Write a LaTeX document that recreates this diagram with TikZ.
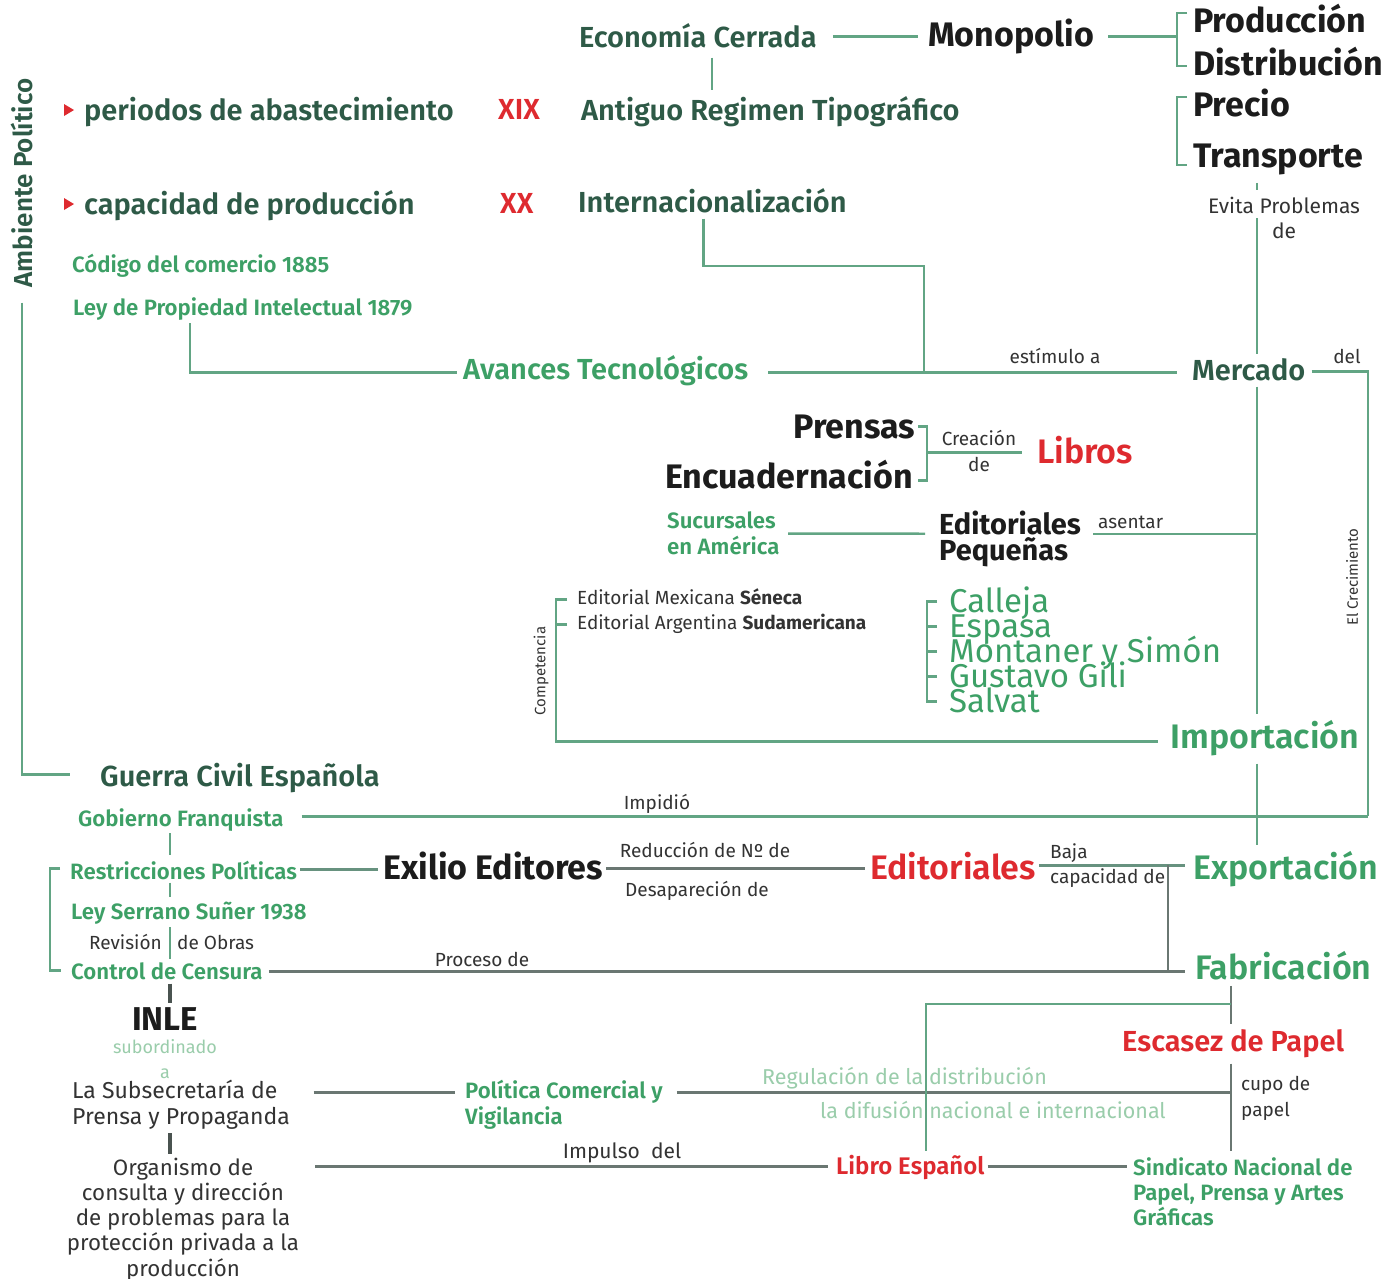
\documentclass[tikz,border=0pt]{standalone}
\usepackage{fontspec}
\setmainfont{Fira Sans}
\IfFontExistsTF{Fira Sans SemiBold}{\newfontfamily\semib{Fira Sans SemiBold}}{\newcommand\semib{\bfseries}}
\usetikzlibrary{calc}

\definecolor{dkgreen}{HTML}{2E5A47}
\definecolor{ltgreen}{HTML}{3DA066}
\definecolor{paleg}{HTML}{9ACDAB}
\definecolor{redtxt}{HTML}{DE2A2F}
\definecolor{glin}{HTML}{62A584}
\definecolor{klin}{HTML}{6A7772}
\definecolor{gklin}{HTML}{67927F}
\definecolor{blk}{HTML}{1C1C1C}

\tikzset{
  every node/.style={inner sep=0pt, anchor=base west},
  head/.style={font=\fontsize{29}{31}\selectfont\semib, text=dkgreen},
  big/.style={font=\fontsize{34}{36}\selectfont\bfseries, text=blk},
  key/.style={font=\fontsize{34}{36}\selectfont\semib, text=ltgreen},
  redb/.style={font=\fontsize{34}{36}\selectfont\semib, text=redtxt},
  sub/.style={font=\fontsize{22.2}{24}\selectfont\semib, text=ltgreen},
  lbl/.style={font=\fontsize{19}{21}\selectfont, text=blk!90},
  note/.style={font=\fontsize{23}{25}\selectfont, text=blk!90},
  fade/.style={font=\fontsize{21.5}{23}\selectfont, text=paleg},
  firm/.style={font=\fontsize{33}{35}\selectfont, text=ltgreen},
  gl/.style={draw=glin, line width=2.4pt},
  kl/.style={draw=klin, line width=2.4pt},
  gk/.style={draw=gklin, line width=2.4pt},
  thk/.style={draw=klin!70!black, line width=4pt}
}

\begin{document}
\begin{tikzpicture}[x=1pt, y=-1pt]
  %%%%% START %%%%%
  \fill[white] (0,0) rectangle (1399,1278);
  \useasboundingbox (0,0) rectangle (1399,1278);

  % spines
  \coordinate (mk) at (1257,0);
  \coordinate (crecx) at (1368,0);
  \coordinate (pdtop) at (1177,13);
  \coordinate (pdbot) at (1177,66);
  \coordinate (pttop) at (1177,97);
  \coordinate (ptbot) at (1177,165);
  \coordinate (inbend) at (924,266);
  \coordinate (lpx) at (190,0);
  \coordinate (cpx) at (556,0);
  \coordinate (clx) at (927,0);
  \coordinate (gx) at (170,0);
  \coordinate (lbx) at (50,0);
  \coordinate (bcx) at (1168,0);
  \coordinate (fbx) at (1231,0);
  \coordinate (lbjoin) at (1231,1004);
  \coordinate (libx) at (926,0);

  % top
  \node[head] (econ) at (579,47) {Economía Cerrada};
  \node[big] (mono) at (928,46) {Monopolio};
  \node[big] (prod) at (1193,32) {Producción};
  \node[big] (dist) at (1193,75) {Distribución};
  \node[big] (prec) at (1193,116) {Precio};
  \node[big] (trans) at (1193,167) {Transporte};
  \node[lbl, anchor=base, font=\fontsize{21}{23}\selectfont] (evita) at (1284,213) {Evita Problemas};
  \node[lbl, anchor=base, font=\fontsize{21}{23}\selectfont] (evitade) at (1284,238) {de};
  \node[head] (antig) at (581,120) {Antiguo Regimen Tipográfico};
  \node[head, text=redtxt] (xix) at (498,119) {XIX};
  \node[head, text=redtxt] (xx) at (500,213) {XX};
  \node[head] (peri) at (84,120) {periodos de abastecimiento};
  \node[head] (capa) at (84,214) {capacidad de producción};
  \fill[redtxt] (64,104) -- (74,110) -- (64,116) -- cycle;
  \fill[redtxt] (64,198) -- (74,204) -- (64,210) -- cycle;
  \node[head] (inter) at (578,212) {Internacionalización};
  \node[head, rotate=90, anchor=center, font=\fontsize{26}{28}\selectfont\semib] (amb) at (22,183) {Ambiente Político};
  \node[sub] (codigo) at (72,272) {Código del comercio 1885};
  \node[sub] (leyprop) at (73,315) {Ley de Propiedad Intelectual 1879};
  \node[head, text=ltgreen] (avan) at (463,379) {Avances Tecnológicos};
  \node[head] (merc) at (1192,380) {Mercado};
  \node[lbl, anchor=base] (estim) at (1055,363) {estímulo a};
  \node[lbl, anchor=base] (del) at (1347,363) {del};
  \node[lbl, rotate=90, anchor=center, font=\fontsize{15}{16}\selectfont] (crec) at (1352,577) {El Crecimiento};

  % middle
  \node[big, anchor=base east] (prensas) at (915,438) {Prensas};
  \node[big, anchor=base east] (encuad) at (913,488) {Encuadernación};
  \node[lbl, anchor=base] (crea) at (979,445) {Creación};
  \node[lbl, anchor=base] (creade) at (979,471) {de};
  \node[redb] (libros) at (1037,463) {Libros};
  \node[sub] (sucur) at (667,528) {Sucursales};
  \node[sub] (sucur2) at (667,554) {en América};
  \node[big, font=\fontsize{29}{31}\selectfont\bfseries] (edpeq) at (939,534) {Editoriales};
  \node[big, font=\fontsize{29}{31}\selectfont\bfseries] (edpeq2) at (939,560) {Pequeñas};
  \node[lbl] (asent) at (1098,528) {asentar};
  \node[lbl] (seneca) at (577,604) {Editorial Mexicana \textbf{Séneca}};
  \node[lbl] (sudam) at (577,629) {Editorial Argentina \textbf{Sudamericana}};
  \node[lbl, rotate=90, anchor=center, font=\fontsize{15}{16}\selectfont] (comp) at (541,671) {Competencia};
  \foreach \t [count=\i] in {Calleja, Espasa, Montaner y Simón, Gustavo Gili, Salvat}
    \node[firm] (ed\i) at (949,587+25*\i) {\t};
  \node[key] (impor) at (1170,748) {Importación};

  % lower
  \node[head] (guerra) at (100,786) {Guerra Civil Española};
  \node[sub] (gob) at (78,826) {Gobierno Franquista};
  \node[lbl, anchor=base] (impid) at (657,809) {Impidió};
  \node[sub] (restr) at (70,879) {Restricciones Políticas};
  \node[big] (exil) at (383,879) {Exilio Editores};
  \node[lbl, anchor=base] (reduc) at (705,857) {Reducción de Nº de};
  \node[lbl, anchor=base] (desap) at (697,896) {Desapareción de};
  \node[redb] (edit) at (870,879) {Editoriales};
  \node[lbl] (baja) at (1050,858) {Baja};
  \node[lbl] (capde) at (1050,883) {capacidad de};
  \node[key] (expor) at (1193,879) {Exportación};
  \node[key] (fabri) at (1195,979) {Fabricación};
  \node[sub] (leyser) at (71,919) {Ley Serrano Suñer 1938};
  \node[lbl, anchor=base east] (revis) at (162,949) {Revisión};
  \node[lbl] (obras) at (177,949) {de Obras};
  \node[sub] (control) at (71,979) {Control de Censura};
  \node[lbl, anchor=base] (proces) at (482,966) {Proceso de};
  \node[big, font=\fontsize{33}{35}\selectfont\bfseries, anchor=base] (inle) at (165,1030) {INLE};
  \node[fade, anchor=base, font=\fontsize{18}{20}\selectfont] (subord) at (165,1053) {subordinado};
  \node[fade, anchor=base, font=\fontsize{18}{20}\selectfont] (suba) at (165,1078) {a};
  \node[note] (subsec) at (72,1098) {La Subsecretaría de};
  \node[note] (subsec2) at (72,1124) {Prensa y Propaganda};
  \node[sub] (polcom) at (465,1098) {Política Comercial y};
  \node[sub] (polcom2) at (465,1124) {Vigilancia};
  \node[fade] (regul) at (762,1084) {Regulación de la distribución};
  \node[fade] (difus) at (820,1118) {la difusión nacional e internacional};
  \node[redb, font=\fontsize{29}{31}\selectfont\semib] (escas) at (1122,1051) {Escasez de Papel};
  \node[lbl] (cupo) at (1241,1090) {cupo de};
  \node[lbl] (cupo2) at (1241,1116) {papel};
  \foreach \t [count=\i] in {Organismo de, consulta y dirección, de problemas para la, protección privada a la, producción}
    \node[note, anchor=base, font=\fontsize{22.3}{24}\selectfont] (org\i) at (183,1150+25.2*\i) {\t};
  \node[note, anchor=base, font=\fontsize{21}{23}\selectfont] (impul) at (622,1158) {Impulso\ \ del};
  \node[redb, font=\fontsize{24}{26}\selectfont\semib] (libro) at (836,1174) {Libro Español};
  \node[sub] (sind) at (1133,1175) {Sindicato Nacional de};
  \node[sub] (sind2) at (1133,1200) {Papel, Prensa y Artes};
  \node[sub] (sind3) at (1133,1225) {Gráficas};

  % connectors, top
  \draw[gl] ([xshift=16pt,yshift=8pt]econ.mid east) -- ([xshift=-10pt,yshift=8pt]mono.mid west |- econ.mid east);
  \draw[gl] ([xshift=14pt,yshift=-10pt]econ.south) -- ([xshift=14pt,yshift=6pt]econ.south |- antig.north);
  \draw[gl] ([xshift=14pt,yshift=7pt]mono.mid east) -- ([yshift=7pt]mono.mid east -| pdtop);
  \draw[gl] ([xshift=-6pt]prod.west |- pdtop) -- (pdtop) -- (pdbot) -- ([xshift=-6pt]dist.west |- pdbot);
  \draw[gl] ([xshift=-6pt]prec.west |- pttop) -- (pttop) -- (ptbot) -- ([xshift=-6pt]trans.west |- ptbot);
  \draw[gl] ([yshift=-8pt]trans.south -| mk) -- ([yshift=6pt]evita.north -| mk);
  \draw[gl] ([yshift=-5pt]evita.south -| mk) -- ([yshift=4pt]merc.north -| mk);
  \draw[gl] ([yshift=-6pt]merc.south -| mk) -- ([yshift=6pt]impor.north -| mk);
  \draw[gl] ([xshift=6pt,yshift=6pt]merc.mid east) -| ([yshift=7pt]crecx |- gob.mid east);
  \draw[gl] ([xshift=20pt,yshift=4pt]avan.mid east) -- ([xshift=-15pt,yshift=4pt]merc.mid west |- avan.mid east);
  \draw[gl] ([xshift=-9pt,yshift=-6pt]inter.south) |- (inbend) -- ([yshift=4pt]inbend |- avan.mid east);
  \draw[gl] ([yshift=-3pt]leyprop.south -| lpx) |- ([xshift=-6pt,yshift=4pt]avan.mid west);
  \draw[gl] ([yshift=-15pt]amb.west) |- ([xshift=-30pt,yshift=9pt]guerra.mid west);

  % connectors, middle
  \draw[gl] ([xshift=3pt,yshift=9pt]prensas.mid east) -| ([xshift=14pt,yshift=5pt]encuad.mid east) -- ([xshift=5pt,yshift=5pt]encuad.mid east);
  \draw[gl] ([xshift=14pt,yshift=8pt]encuad.mid east |- libros.mid west) -- ([xshift=-15pt,yshift=8pt]libros.mid west);
  \draw[gl] ([xshift=12pt,yshift=-5pt]sucur.south east) -- ([xshift=-14pt,yshift=1pt]edpeq.south west);
  \draw[gl] ([xshift=12pt,yshift=1pt]edpeq.south east) -- ([yshift=1pt]edpeq.south east -| mk);
  \draw[gl] ([xshift=-10pt,yshift=2pt]seneca.mid west) -- ([yshift=2pt]seneca.mid west -| cpx) |- ([xshift=-12pt,yshift=4pt]impor.mid west);
  \draw[gl] ([xshift=-10pt,yshift=2pt]sudam.mid west) -- ([yshift=2pt]sudam.mid west -| cpx);
  \draw[gl] ([xshift=-12pt,yshift=8pt]ed1.mid west) -- ([yshift=8pt]ed1.mid west -| clx) |- ([xshift=-12pt,yshift=8pt]ed5.mid west);
  \foreach \i in {2,3,4}
    \draw[gl] ([xshift=-12pt,yshift=8pt]ed\i.mid west) -- ([yshift=8pt]ed\i.mid west -| clx);
  \draw[gl] ([yshift=-8pt]impor.south -| mk) -- ([yshift=6pt]expor.north -| mk);

  % connectors, lower
  \draw[gl] ([xshift=18pt,yshift=7pt]gob.mid east) -- ([yshift=7pt]gob.mid east -| crecx);
  \draw[gl] ([yshift=-2pt]gob.south -| gx) -- ([yshift=5pt]restr.north -| gx);
  \draw[gk] ([xshift=3pt,yshift=7pt]restr.mid east) -- ([xshift=-5pt,yshift=7pt]exil.mid west |- restr.mid east);
  \draw[kl] ([xshift=3pt,yshift=8pt]exil.mid east) -- ([xshift=-5pt,yshift=8pt]edit.mid west |- exil.mid east);
  \draw[gk] ([xshift=3pt,yshift=11pt]edit.mid east) -- ([xshift=-8pt,yshift=11pt]expor.mid west |- edit.mid east);
  \draw[kl] ([yshift=11pt]edit.mid east -| bcx) -- ([yshift=5pt]bcx |- control.mid east);
  \draw[kl] ([xshift=6pt,yshift=5pt]control.mid east) -- ([xshift=-10pt,yshift=5pt]fabri.mid west |- control.mid east);
  \draw[gl] ([yshift=-3pt]restr.south -| gx) -- ([yshift=4pt]leyser.north -| gx);
  \draw[gl] ([yshift=-3pt]leyser.south -| gx) -- ([yshift=3pt]control.north -| gx);
  \draw[gl] ([xshift=-10pt,yshift=8pt]restr.mid west) -- ([yshift=8pt]restr.mid west -| lbx) |- ([xshift=-10pt,yshift=6pt]control.mid west);
  \draw[thk] ([yshift=-4pt]control.south -| gx) -- ([yshift=4pt]inle.north -| gx);
  \draw[thk] ([yshift=-4pt]subsec2.south -| gx) -- ([yshift=4pt]org1.north -| gx);
  \draw[kl] ([xshift=36pt,yshift=3pt]subsec.mid east) -- ([xshift=-10pt,yshift=3pt]polcom.mid west |- subsec.mid east);
  \draw[kl] ([xshift=14pt,yshift=3pt]polcom.mid east) -- ([yshift=3pt]polcom.mid east -| fbx);
  \draw[kl] ([yshift=-6pt]fabri.south -| fbx) -- ([yshift=5pt]escas.north -| fbx);
  \draw[gl] (lbjoin) -| ([yshift=4pt]libro.north -| libx);
  \draw[kl] ([yshift=-6pt]escas.south -| fbx) -- ([yshift=6pt]sind.north -| fbx);
  \draw[kl] ([xshift=31pt,yshift=6pt]org2.east |- org1.mid east) -- ([xshift=-8pt,yshift=6pt]libro.mid west |- org1.mid east);
  \draw[kl] ([xshift=3pt,yshift=5pt]libro.mid east) -- ([xshift=-6pt,yshift=5pt]sind.mid west |- libro.mid east);
  %%%%% END %%%%%
\end{tikzpicture}
\end{document}
